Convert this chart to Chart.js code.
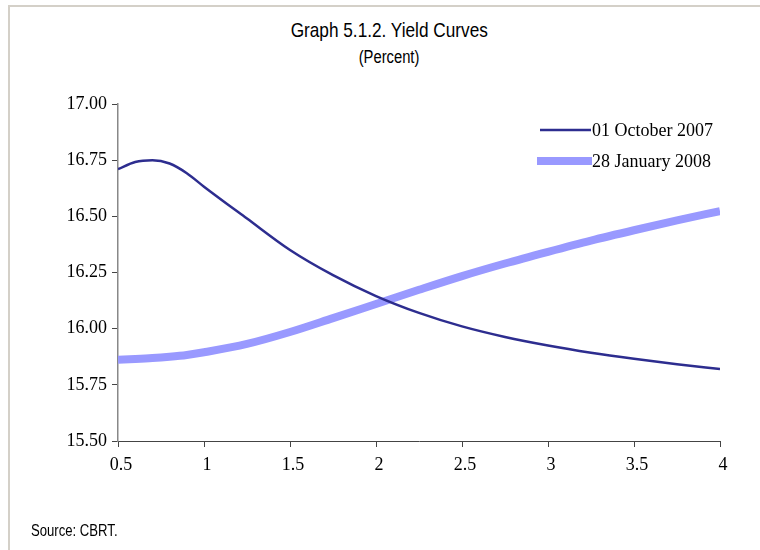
<!DOCTYPE html>
<html>
<head>
<meta charset="utf-8">
<script src="https://cdn.jsdelivr.net/npm/chart.js@4"></script>
<style>
  html, body { margin: 0; padding: 0; background: #fff; overflow: hidden; }
  #page { position: relative; width: 760px; height: 550px; }
  #frame { position: absolute; left: 8px; top: 5px; width: 800px; height: 600px;
           border-top: 2px solid #D4D0C8; border-left: 2px solid #D4D0C8; }
  .narrow { position: absolute; font-family: 'Liberation Sans', Arial, sans-serif; color: #000; line-height: 1; white-space: nowrap; }
  .narrow span { display: inline-block; transform: scaleX(0.82); }
  #title { left: 0; width: 779px; top: 19px; text-align: center; font-size: 21px; }
  #subtitle { left: 0; width: 779px; top: 48px; text-align: center; font-size: 18px; }
  #source { left: 31px; top: 523px; font-size: 16px; }
  #source span { transform-origin: left center; }
  #chart { position: absolute; left: 0; top: 0; }
</style>
</head>
<body>
<div id="page">
  <div id="frame"></div>
  <div id="title" class="narrow"><span>Graph 5.1.2. Yield Curves</span></div>
  <div id="subtitle" class="narrow"><span>(Percent)</span></div>
  <canvas id="chart" width="760" height="550"></canvas>
  <div id="source" class="narrow"><span>Source: CBRT.</span></div>
</div>
<script>
// maturities (years) and yields (%)
const maturities = [0.5, 0.6, 0.7, 0.8, 0.9, 1, 1.25, 1.5, 1.75, 2, 2.25, 2.5, 2.75, 3, 3.25, 3.5, 3.75, 4];
const oct2007 = [16.71, 16.742, 16.75, 16.735, 16.692, 16.632, 16.49, 16.35, 16.238, 16.145, 16.07, 16.01, 15.963, 15.925, 15.893, 15.866, 15.842, 15.82];
const jan2008 = [15.862, 15.865, 15.869, 15.875, 15.883, 15.895, 15.932, 15.985, 16.047, 16.11, 16.173, 16.234, 16.29, 16.342, 16.392, 16.438, 16.482, 16.523];
const seriesNames = ['01 October 2007', '28 January 2008'];
const xTickLabels = ['0.5', '1', '1.5', '2', '2.5', '3', '3.5', '4'];
const yTickLabels = ['15.50', '15.75', '16.00', '16.25', '16.50', '16.75', '17.00'];

const serif = "'Liberation Serif', 'Times New Roman', serif";

function toPoints(values) {
    return maturities.map((m, i) => ({ x: m, y: values[i] }));
}

// legend drawn inside the plot, Excel style
const innerLegend = {
    id: 'innerLegend',
    afterDatasetsDraw(chart) {
        const ctx = chart.ctx;
        const rows = [
            { x1: 540, x2: 591, y: 130 },
            { x1: 537, x2: 592, y: 161 }
        ];
        ctx.save();
        ctx.font = '18px ' + serif;
        ctx.textBaseline = 'middle';
        ctx.fillStyle = '#000';
        chart.data.datasets.forEach((ds, i) => {
            const r = rows[i];
            ctx.strokeStyle = ds.borderColor;
            ctx.lineWidth = ds.borderWidth;
            ctx.lineCap = 'butt';
            ctx.beginPath();
            ctx.moveTo(r.x1, r.y);
            ctx.lineTo(r.x2, r.y);
            ctx.stroke();
            ctx.fillText(ds.label, 592, r.y + 1);
        });
        ctx.restore();
    }
};

const ctx = document.getElementById('chart').getContext('2d');
const yieldChart = new Chart(ctx, {
    type: 'line',
    data: {
        datasets: [{
            label: seriesNames[0],
            data: toPoints(oct2007),
            borderColor: '#2D2D8F',
            borderWidth: 2.5,
            pointRadius: 0,
            cubicInterpolationMode: 'monotone',
            order: 1
        }, {
            label: seriesNames[1],
            data: toPoints(jan2008),
            borderColor: '#9999FF',
            borderWidth: 8,
            borderCapStyle: 'butt',
            pointRadius: 0,
            cubicInterpolationMode: 'monotone',
            order: 2
        }]
    },
    options: {
        responsive: false,
        animation: false,
        events: [],
        layout: { padding: { top: 104, right: 40, bottom: 69, left: 0 } },
        plugins: {
            legend: { display: false },
            tooltip: { enabled: false }
        },
        scales: {
            x: {
                type: 'linear',
                min: 0.5,
                max: 4,
                afterFit(scale) { scale.height = 40; },
                grid: { drawOnChartArea: false, drawTicks: true, tickLength: 6, color: '#444' },
                border: { color: '#444', width: 1 },
                ticks: {
                    stepSize: 0.5,
                    padding: 7,
                    labelOffset: 3,
                    color: '#000',
                    font: { family: serif, size: 18 },
                    callback: (v, i) => xTickLabels[i]
                }
            },
            y: {
                min: 15.5,
                max: 17,
                afterFit(scale) { scale.width = 118; },
                grid: { drawOnChartArea: false, drawTicks: true, tickLength: 6, color: '#444' },
                border: { color: '#888', width: 1.5 },
                ticks: {
                    stepSize: 0.25,
                    padding: 5,
                    color: '#000',
                    font: { family: serif, size: 18 },
                    callback: (v, i) => yTickLabels[i]
                }
            }
        }
    },
    plugins: [innerLegend]
});
</script>
</body>
</html>
